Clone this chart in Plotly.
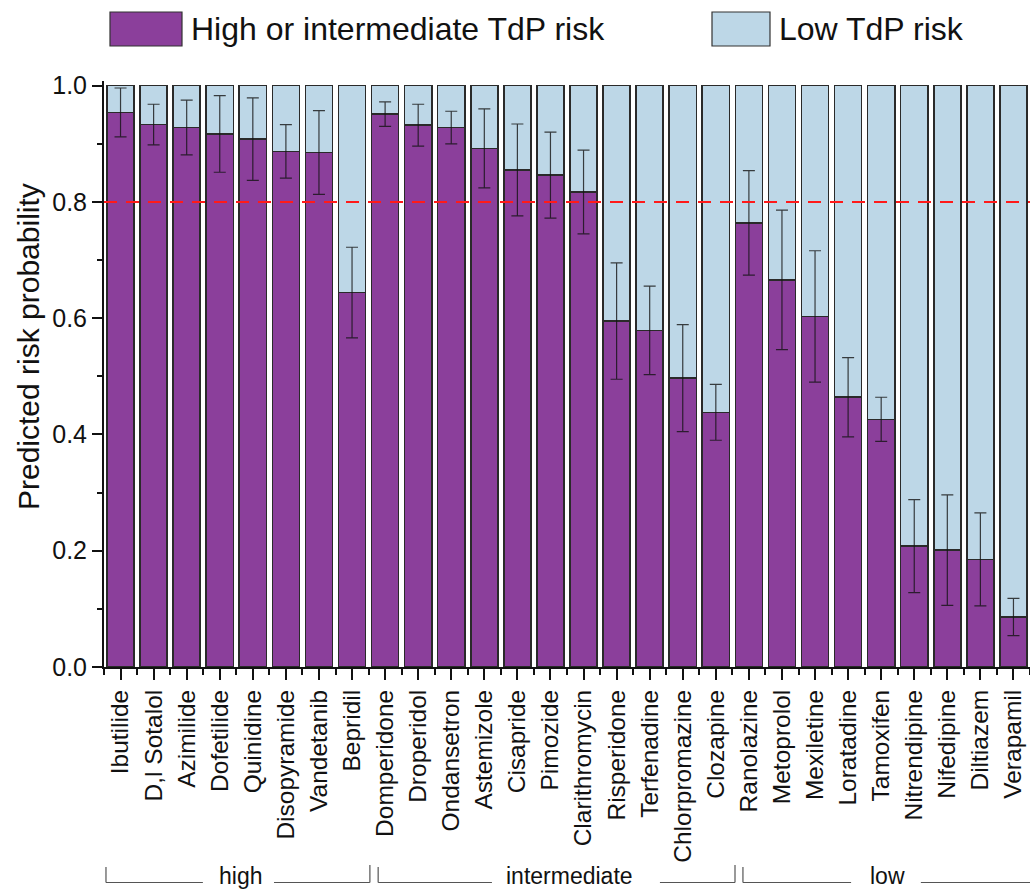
import numpy as np
import plotly.graph_objects as go

drugs = ["Ibutilide", "D,l Sotalol", "Azimilide", "Dofetilide", "Quinidine", "Disopyramide",
         "Vandetanib", "Bepridil",
         "Domperidone", "Droperidol", "Ondansetron", "Astemizole", "Cisapride", "Pimozide",
         "Clarithromycin", "Risperidone", "Terfenadine", "Chlorpromazine", "Clozapine",
         "Ranolazine", "Metoprolol", "Mexiletine", "Loratadine", "Tamoxifen", "Nitrendipine",
         "Nifedipine", "Diltiazem", "Verapamil"]
high_prob = [0.954, 0.933, 0.928, 0.917, 0.908, 0.887, 0.885, 0.644,
             0.951, 0.932, 0.928, 0.892, 0.855, 0.846, 0.817, 0.595, 0.579, 0.497, 0.438,
             0.764, 0.666, 0.603, 0.464, 0.426, 0.208, 0.201, 0.185, 0.086]
err = [0.042, 0.035, 0.047, 0.066, 0.071, 0.046, 0.072, 0.078,
       0.021, 0.036, 0.028, 0.068, 0.079, 0.074, 0.072, 0.100, 0.076, 0.092, 0.048,
       0.090, 0.120, 0.113, 0.068, 0.038, 0.080, 0.095, 0.080, 0.032]
low_prob = [1 - v for v in high_prob]
threshold = 0.8
y_ticks = [0, 0.2, 0.4, 0.6, 0.8, 1.0]
y_ticklabels = ["0.0", "0.2", "0.4", "0.6", "0.8", "1.0"]
groups = [("high", -0.44, 7.54, 2.49, 4.64, 3.64),
          ("intermediate", 7.79, 18.58, 11.23, 16.31, 13.59),
          ("low", 18.82, 27.53, 22.09, 24.20, 23.18)]

PURPLE = "#8B3F9B"
LIGHTBLUE = "#BDD7E7"
FONT = "Liberation Sans, Arial, sans-serif"

W, H = 1030, 891
L, R, T, B = 104, 0, 81, 224
PW, PH = W - L - R, H - T - B

def px_x(px):
    return (px - L) / PW

def px_y(py):
    return (H - B - py) / PH

xs = np.arange(len(drugs))

fig = go.Figure()
fig.add_trace(go.Bar(x=xs, y=high_prob, name="High or intermediate TdP risk",
                     marker=dict(color=PURPLE, line=dict(color="#2a2a2a", width=1.6)),
                     showlegend=False))
fig.add_trace(go.Bar(x=xs, y=low_prob, name="Low TdP risk",
                     marker=dict(color=LIGHTBLUE, line=dict(color="#2a2a2a", width=1.6)),
                     showlegend=False))
fig.add_trace(go.Scatter(x=xs, y=high_prob, mode="markers",
                         marker=dict(size=1, opacity=0),
                         error_y=dict(type="data", array=err, visible=True,
                                      color="rgba(20,20,20,0.8)", thickness=1.2, width=6),
                         showlegend=False, hoverinfo="skip"))

shapes = []
shapes.append(dict(type="line", xref="paper", yref="y", x0=0, x1=1, y0=threshold, y1=threshold,
                   line=dict(color="#FF1A1A", width=2, dash="13px,9px"), layer="above"))

legend_items = [("High or intermediate TdP risk", PURPLE, 110, 182, 189),
                ("Low TdP risk", LIGHTBLUE, 712, 770, 777)]
annotations = []
for name, col, x0, x1, tx in legend_items:
    shapes.append(dict(type="rect", xref="paper", yref="paper",
                       x0=px_x(x0), x1=px_x(x1), y0=px_y(46), y1=px_y(12),
                       fillcolor=col, line=dict(color="#333333", width=1.2)))
    annotations.append(dict(text=name, xref="paper", yref="paper", x=px_x(tx), y=px_y(29),
                            xanchor="left", yanchor="middle", showarrow=False,
                            font=dict(family=FONT, size=32, color="#111111")))

annotations.append(dict(text="Predicted risk probability", xref="paper", yref="paper",
                        x=px_x(28), y=px_y(347), xanchor="center", yanchor="middle",
                        textangle=-90, showarrow=False,
                        font=dict(family=FONT, size=30, color="#111111")))

yb = px_y(882.5)
yt = px_y(867)
for name, a, b, g0, g1, tc in groups:
    shapes.append(dict(type="line", xref="x", yref="paper", x0=a, x1=a, y0=yt, y1=yb,
                       line=dict(color="#555555", width=1.2)))
    shapes.append(dict(type="line", xref="x", yref="paper", x0=b, x1=b, y0=px_y(865), y1=yb,
                       line=dict(color="#555555", width=1.2)))
    shapes.append(dict(type="line", xref="x", yref="paper", x0=a, x1=g0, y0=yb, y1=yb,
                       line=dict(color="#555555", width=1.2)))
    shapes.append(dict(type="line", xref="x", yref="paper", x0=g1, x1=b, y0=yb, y1=yb,
                       line=dict(color="#555555", width=1.2)))
    annotations.append(dict(text=name, xref="x", yref="paper", x=tc, y=px_y(876),
                            xanchor="center", yanchor="middle", showarrow=False,
                            font=dict(family=FONT, size=23, color="#111111")))

fig.update_layout(
    width=W, height=H,
    margin=dict(l=L, r=R, t=T, b=B, autoexpand=False),
    barmode="stack", bargap=0.18,
    plot_bgcolor="white", paper_bgcolor="white",
    font=dict(family=FONT, color="#111111"),
    shapes=shapes, annotations=annotations,
    xaxis=dict(range=[-0.5, len(drugs) - 0.5], tickmode="array", tickvals=xs, ticktext=drugs,
               tickangle=-90, ticks="outside", ticklen=11, tickwidth=1.5, tickcolor="#111",
               tickfont=dict(family=FONT, size=24.5, color="#111111"),
               showline=True, linecolor="#111", linewidth=2, showgrid=False, zeroline=False,
               minor=dict(tickmode="linear", tick0=0.5, dtick=1, ticks="outside", ticklen=6,
                          tickwidth=1.5, tickcolor="#111")),
    yaxis=dict(range=[0, 1.008], tickmode="array", tickvals=y_ticks, ticktext=y_ticklabels,
               ticks="outside", ticklen=10, tickwidth=1.5, tickcolor="#111",
               tickfont=dict(family=FONT, size=25, color="#111111"),
               showline=True, linecolor="#111", linewidth=2, showgrid=False, zeroline=False,
               minor=dict(tickmode="linear", tick0=0.1, dtick=0.2, ticks="outside", ticklen=5,
                          tickwidth=1.5, tickcolor="#111")),
)

fig.write_html("out.html", config={"displayModeBar": False},
               post_script="document.body.style.margin='0';document.body.style.overflow='hidden';")
